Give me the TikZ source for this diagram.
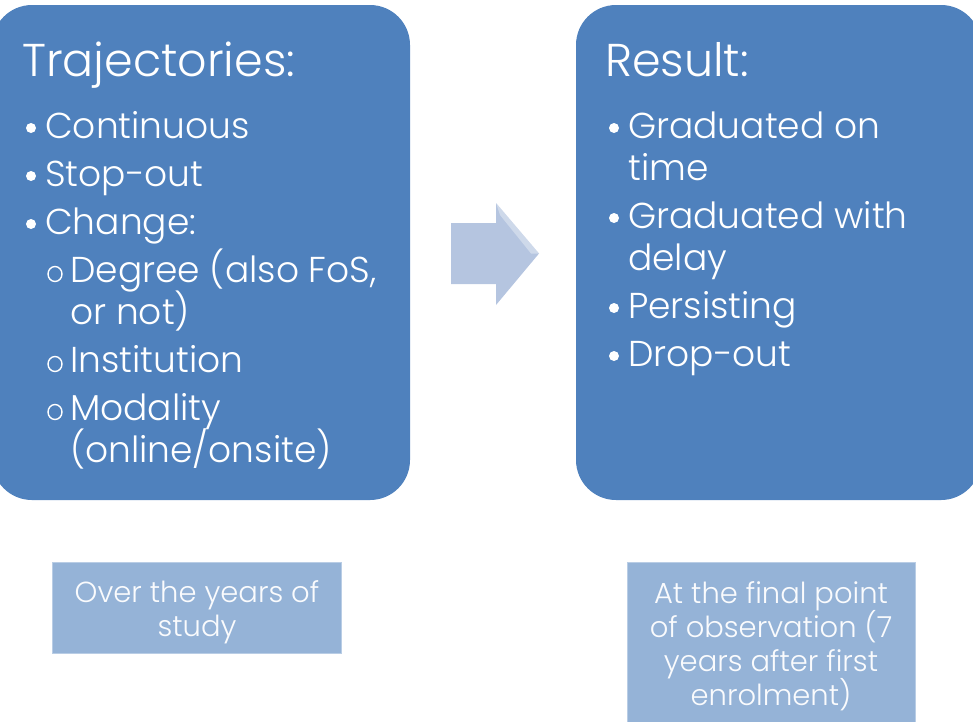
\documentclass[tikz,border=0pt]{standalone}
\usepackage{fontspec}
\newfontfamily\pl{Poppins Light}
\definecolor{boxblue}{HTML}{4F81BD}
\definecolor{arrowblue}{HTML}{B5C5E0}
\definecolor{lowblue}{HTML}{95B3D7}
\definecolor{lowedge}{HTML}{B9CDE5}
\tikzset{
  bigbox/.style={fill=boxblue, draw=none, rounded corners=40pt, inner sep=0},
  lowbox/.style={fill=lowblue, draw=lowedge, line width=1pt, inner sep=0},
  titletext/.style={anchor=base west, text=white, inner sep=0, font=\pl\fontsize{46}{46}\selectfont},
  itemtext/.style={anchor=base west, text=white, inner sep=0, font=\pl\fontsize{36}{36}\selectfont},
  dotmark/.style={circle, fill=white, draw=none, inner sep=0, minimum size=10pt},
  ringmark/.style={ellipse, draw=white, line width=1.4pt, inner sep=0, minimum width=14pt, minimum height=15pt},
  lowtext/.style={anchor=base, text=white!95!lowblue, inner sep=0, font=\pl\fontsize{29}{29}\selectfont},
}
\usetikzlibrary{shapes.geometric}
\begin{document}
\begin{tikzpicture}[x=1pt, y=-1pt]
\useasboundingbox (0,0) rectangle (973,721);
\clip (0,0) rectangle (973,721);
% big boxes
\node[bigbox, minimum width=418pt, minimum height=495pt] (left) at (201,252.5) {};
\node[bigbox, minimum width=405pt, minimum height=495pt] (right) at (778.5,252.5) {};
% arrow
\fill[arrowblue] (451,223) -- (496,223) -- (496,203) -- (539,253.5) -- (496,305) -- (496,284) -- (451,284) -- cycle;
\fill[white, opacity=0.35] (496,203) -- (539,253.5) -- (531,253.5) -- (500,215) -- cycle;
% left box text
\node[titletext] (ltitle) at (22,76) {Trajectories:};
\node[dotmark] (b1) at (31,128) {};
\node[itemtext] (t1) at (45,138) {Continuous};
\node[dotmark] (b2) at (31,176) {};
\node[itemtext] (t2) at (45,186) {Stop-out};
\node[dotmark] (b3) at (31,224) {};
\node[itemtext] (t3) at (45,234) {Change:};
\node[ringmark] (r1) at (55,274) {};
\node[itemtext] (t4) at (70,282) {Degree (also FoS,};
\node[itemtext] (t4b) at (70,324) {or not)};
\node[ringmark] (r2) at (55,364) {};
\node[itemtext] (t5) at (70,372) {Institution};
\node[ringmark] (r3) at (55,412) {};
\node[itemtext] (t6) at (70,420) {Modality};
\node[itemtext] (t6b) at (70,462) {(online/onsite)};
% right box text
\node[titletext] (rtitle) at (605,76) {Result:};
\node[dotmark] (c1) at (614,128) {};
\node[itemtext] (u1) at (628,138) {Graduated on};
\node[itemtext] (u1b) at (628,180) {time};
\node[dotmark] (c2) at (614,218) {};
\node[itemtext] (u2) at (628,228) {Graduated with};
\node[itemtext] (u2b) at (628,270) {delay};
\node[dotmark] (c3) at (614,308) {};
\node[itemtext] (u3) at (628,318) {Persisting};
\node[dotmark] (c4) at (614,356) {};
\node[itemtext] (u4) at (628,366) {Drop-out};
% lower boxes
\node[lowbox, minimum width=289pt, minimum height=91pt] (lowleft) at (196.5,607.5) {};
\node[lowbox, minimum width=288pt, minimum height=175pt] (lowright) at (771,649.5) {};
\node[lowtext] (l1) at (197,602) {Over the years of};
\node[lowtext] (l2) at (197,636) {study};
\node[lowtext] (m1) at (771,603) {At the final point};
\node[lowtext] (m2) at (771,637) {of observation (7};
\node[lowtext] (m3) at (771,671) {years after first};
\node[lowtext] (m4) at (771,705) {enrolment)};
\end{tikzpicture}
\end{document}
